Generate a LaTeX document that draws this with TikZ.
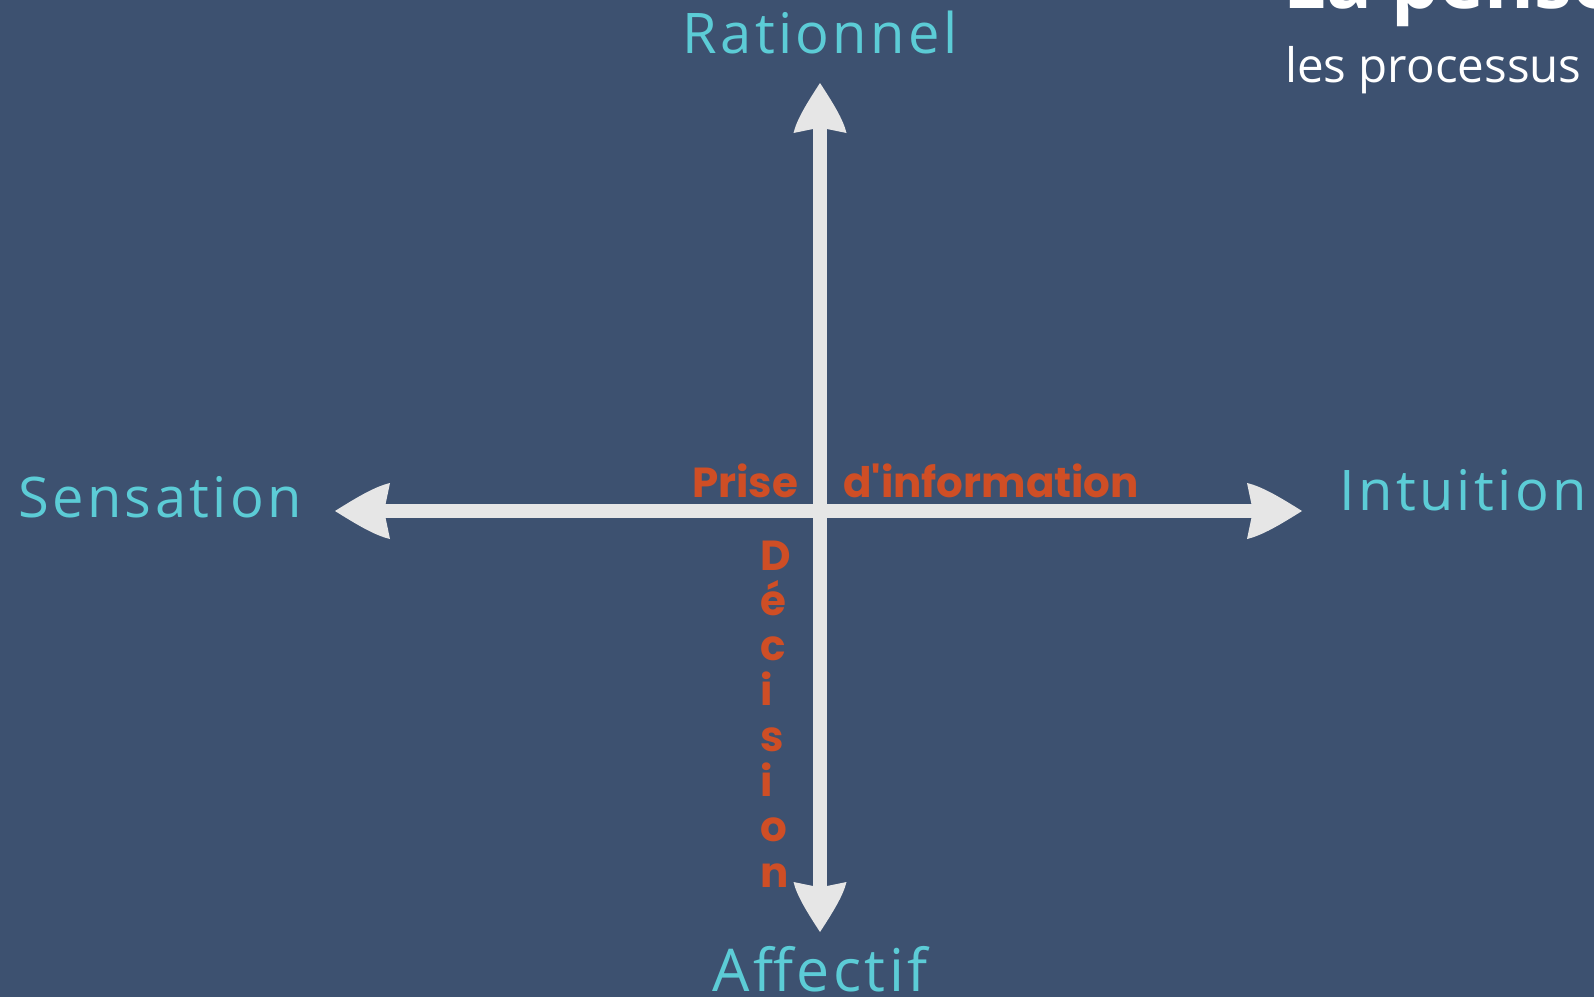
\documentclass[tikz,border=0pt]{standalone}
\usepackage{fontspec}
\usetikzlibrary{decorations.markings}

\newfontfamily\axisfont[LetterSpace=6]{Open Sans}
\newfontfamily\markfont{Poppins}
\newfontfamily\titlefont{Open Sans}

\definecolor{bgcol}{HTML}{3D5170}
\definecolor{axiscol}{HTML}{E6E6E6}
\definecolor{polecol}{HTML}{5CCCD6}
\definecolor{markcol}{HTML}{CF4E25}

% spade-like arrow head, tip at the origin pointing along +x
% #1 = length, #2 = half width
\newcommand\spadehead[2]{%
  \fill[axiscol] (0,0)
    .. controls (-0.4*#1,-0.49*#2) and (-0.72*#1,-0.87*#2) .. (-#1,-#2)
    -- (-0.92*#1,-7) -- (-0.92*#1,7) -- (-#1,#2)
    .. controls (-0.72*#1,0.87*#2) and (-0.4*#1,0.49*#2) .. cycle;}

\tikzset{
  axisline/.style 2 args={
    draw=axiscol, line width=14bp,
    shorten <=40bp, shorten >=40bp,
    postaction={decorate, decoration={markings,
      mark=at position 0 with {\begin{scope}[rotate=180]\spadehead{#1}{#2}\end{scope}},
      mark=at position 1 with {\spadehead{#1}{#2}}}}
  },
  pole/.style={text=polecol, inner sep=0pt,
    font=\axisfont\fontsize{56bp}{62bp}\selectfont},
  marklabel/.style={text=markcol, inner sep=0pt,
    font=\markfont\bfseries\fontsize{42bp}{48bp}\selectfont},
}

\begin{document}
\begin{tikzpicture}[x=1bp, y=-1bp]
  \useasboundingbox (0,0) rectangle (1594,997);
  \fill[bgcol] (0,0) rectangle (1594,997);

  % end points of the two axes
  \coordinate (top)    at (820,83);
  \coordinate (bottom) at (820,932);
  \coordinate (left)   at (335,511);
  \coordinate (right)  at (1302,511);

  \path[axisline={55}{28}] (left) -- (right);
  \path[axisline={50}{26.5}] (bottom) -- (top);

  % poles
  \node[pole, anchor=base] (rationnel) at (820,53) {Rationnel};
  \node[pole, anchor=base] (affectif) at (820,991)
    {\fontsize{59bp}{64bp}\selectfont Affectif};
  \node[pole, anchor=base] (sensation) at (160,517) {Sensation};
  \node[pole, anchor=base] (intuition) at (1463,510) {Intuition};

  % axis labels
  \node[marklabel, anchor=base west] (prise) at (692,497) {Prise};
  \node[marklabel, anchor=base west] (info) at (843,497) {d'information};
  \foreach \ch [count=\i] in {D,é,c,i,s,i,o,n}
    \node[marklabel, anchor=base west] (dec\i) at (760,{570+45.3*(\i-1)}) {\ch};

  % heading in the upper right corner
  \begin{scope}
    \clip (0,0) rectangle (1594,997);
    \node[text=white, inner sep=0pt, anchor=base west,
      font=\titlefont\bfseries\fontsize{76bp}{80bp}\selectfont]
      (title) at (1283,8) {La pensée};
    \node[text=white, inner sep=0pt, anchor=base west,
      font=\titlefont\fontsize{47.5bp}{52bp}\selectfont]
      (subtitle) at (1285,82) {les processus};
  \end{scope}
\end{tikzpicture}
\end{document}
